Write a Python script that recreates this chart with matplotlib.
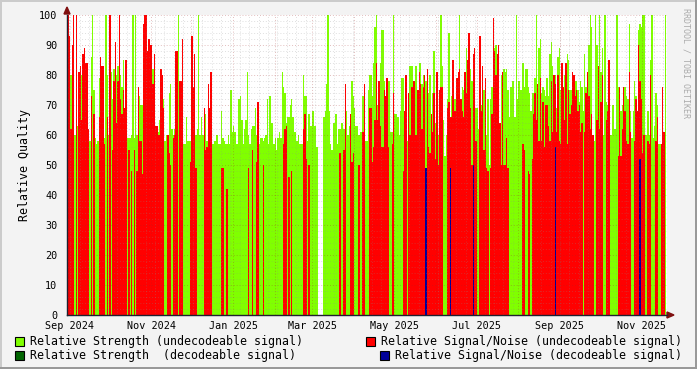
import numpy as np
import pandas as pd
import matplotlib
matplotlib.use('Agg')
import matplotlib.pyplot as plt
import matplotlib.dates as mdates
from matplotlib.patches import Rectangle, Polygon

nan = np.nan
start_date = '2024-08-31'

# Relative Strength (undecodeable signal), one value per day
strength_undec = [
    60, 70, 80, 70, 72, 60, 70, 63, 60, 80,
    80, 70, 75, 70, 65, 60, 58, 86, 100, 75,
    59, 57, 58, 79, 80, 80, 78, 59, 100, 80,
    60, 70, 81, 72, 82, 80, 80, 83, 70, 80,
    76, 85, 65, 70, 59, 59, 59, 60, 100, 59,
    100, 60, 69, 73, 70, 70, 80, 80, 82, 80,
    80, 84, 82, 82, 76, 60, 62, 61, 65, 75,
    72, 72, 58, 60, 60, 74, 77, 62, 60, 62,
    80, 70, 100, 68, 68, 75, 57, 57, 66, 58,
    58, 58, 60, 62, 60, 60, 62, 100, 60, 66,
    60, 60, 67, 58, 60, 68, 60, 57, 57, 58,
    60, 60, 57, 57, 68, 59, 58, 57, 57, 60,
    57, 75, 61, 63, 61, 57, 57, 72, 73, 65,
    57, 62, 65, 81, 60, 57, 62, 63, 63, 69,
    60, 60, 57, 59, 59, 58, 59, 60, 72, 57,
    73, 64, 64, 57, 59, 55, 59, 61, 59, 81,
    76, 74, 64, 66, 66, 70, 72, 66, 61, 61,
    58, 60, 57, 57, 57, 80, 73, 73, 58, 67,
    63, 63, 68, 63, 63, 56, nan, nan, nan, nan,
    66, 68, 77, 100, 68, 57, 55, 64, 64, 67,
    57, 62, 62, 64, 64, 62, 62, 68, 60, 63,
    63, 78, 73, 69, 63, 63, 60, 61, 61, 73,
    70, 58, 58, 75, 80, 80, 73, 84, 96, 100,
    70, 70, 84, 95, 95, 78, 70, 60, 78, 78,
    61, 61, 100, 67, 67, 66, 60, 68, 79, 79,
    60, 60, 58, 74, 83, 83, 83, 67, 83, 83,
    54, 84, 84, 77, 80, 80, 78, 82, 74, 80,
    67, 74, 88, 64, 70, 60, 60, 100, 83, 65,
    53, 60, 72, 94, 66, 73, 79, 72, 72, 70,
    70, 100, 68, 76, 75, 70, 89, 80, 75, 82,
    78, 80, 81, 69, 69, 62, 70, 70, 66, 75,
    69, 60, 72, 50, 72, 76, 75, 89, 90, 80,
    80, 57, 80, 57, 82, 81, 82, 75, 66, 76,
    78, 78, 66, 100, 72, 78, 75, 75, 84, 76,
    82, 82, 76, 74, 68, 74, 74, 79, 100, 77,
    89, 92, 74, 76, 75, 73, 79, 73, 87, 91,
    83, 79, 80, 69, 86, 89, 75, 70, 74, 80,
    65, 87, 85, 75, 75, 70, 73, 78, 78, 75,
    71, 78, 76, 68, 87, 76, 74, 90, 100, 96,
    60, 58, 100, 90, 71, 100, 81, 89, 60, 100,
    71, 70, 68, 60, 60, 70, 62, 62, 100, 76,
    75, 68, 70, 69, 76, 73, 72, 97, 68, 59,
    68, 78, 73, 66, 95, 97, 96, 100, 100, 60,
    60, 68, 60, 85, 100, 59, 63, 74, 70, 57,
    57, 57, 73, 60, 100,
]

# Relative Signal/Noise (undecodeable signal), one value per day
snr_undec = [
    100, 93, 62, 90, 100, 0, 100, 0, 81, 83,
    65, 87, 89, 84, 84, 62, 0, 73, 0, 67,
    0, 0, 0, 66, 86, 83, 83, 57, 0, 66,
    0, 100, 0, 55, 78, 91, 64, 78, 100, 72,
    67, 75, 69, 85, 0, 55, 0, 48, 0, 55,
    0, 48, 76, 58, 58, 47, 97, 100, 100, 88,
    92, 90, 90, 77, 87, 63, 63, 60, 60, 82,
    80, 69, 0, 0, 60, 54, 50, 0, 59, 60,
    88, 88, 0, 78, 78, 92, 0, 0, 0, 0,
    0, 51, 93, 76, 87, 49, 0, 0, 0, 0,
    0, 69, 55, 56, 77, 69, 81, 0, 0, 0,
    0, 0, 0, 0, 49, 49, 0, 0, 42, 0,
    0, 0, 0, 0, 0, 0, 0, 0, 0, 0,
    0, 0, 0, 0, 49, 0, 0, 55, 0, 0,
    51, 71, 0, 0, 0, 50, 0, 0, 0, 0,
    0, 0, 0, 0, 0, 0, 0, 0, 0, 0,
    57, 62, 63, 0, 46, 0, 48, 0, 0, 0,
    0, 0, 0, 0, 0, 62, 67, 52, 0, 50,
    0, 0, 0, 0, 0, 0, nan, nan, nan, nan,
    0, 0, 0, 0, 0, 0, 0, 0, 0, 0,
    0, 0, 54, 0, 0, 55, 77, 0, 0, 0,
    67, 51, 54, 0, 0, 0, 50, 0, 0, 61,
    77, 0, 0, 0, 69, 69, 51, 56, 65, 84,
    65, 78, 63, 56, 56, 75, 73, 79, 56, 0,
    0, 57, 74, 0, 0, 0, 0, 0, 0, 48,
    68, 80, 0, 74, 60, 76, 76, 78, 60, 60,
    75, 81, 77, 62, 76, 80, 0, 82, 56, 54,
    67, 61, 74, 52, 81, 50, 75, 76, 76, 0,
    0, 0, 69, 71, 66, 66, 85, 68, 68, 79,
    81, 82, 72, 68, 66, 81, 74, 85, 94, 69,
    50, 87, 89, 58, 0, 0, 93, 68, 83, 55,
    79, 49, 48, 0, 49, 67, 99, 88, 80, 87,
    90, 64, 50, 81, 50, 50, 59, 49, 0, 0,
    0, 0, 0, 0, 0, 0, 0, 0, 57, 55,
    0, 0, 48, 47, 0, 52, 67, 74, 65, 77,
    58, 79, 58, 71, 56, 70, 70, 63, 58, 78,
    61, 80, 77, 61, 80, 58, 57, 84, 76, 65,
    84, 57, 75, 67, 70, 81, 80, 73, 75, 68,
    70, 61, 64, 0, 61, 74, 81, 73, 62, 67,
    60, 0, 0, 65, 83, 62, 71, 80, 0, 0,
    65, 68, 85, 0, 0, 0, 0, 0, 0, 53,
    76, 53, 62, 76, 68, 58, 57, 81, 61, 0,
    0, 58, 72, 68, 90, 78, 72, 54, 60, 0,
    0, 58, 57, 80, 0, 0, 0, 58, 66, 0,
    0, 57, 76, 61, 0,
]

# Decodeable-signal days
snr_dec_dates = ['2025-05-24', '2025-06-11', '2025-06-28', '2025-08-28', '2025-10-30']
snr_dec = [49, 49, 50, 56, 52]
strength_dec_dates = []
strength_dec = []

y_ticks = [0, 10, 20, 30, 40, 50, 60, 70, 80, 90, 100]
x_tick_dates = ['2024-09-01', '2024-11-01', '2025-01-01', '2025-03-01',
                '2025-05-01', '2025-07-01', '2025-09-01', '2025-11-01']
x_tick_labels = ['Sep 2024', 'Nov 2024', 'Jan 2025', 'Mar 2025',
                 'May 2025', 'Jul 2025', 'Sep 2025', 'Nov 2025']
legend_labels = ['Relative Strength (undecodeable signal)',
                 'Relative Signal/Noise (undecodeable signal)',
                 'Relative Strength  (decodeable signal)',
                 'Relative Signal/Noise (decodeable signal)']

C_GREEN = '#80FF00'
C_RED = '#FF0000'
C_DKGREEN = '#006400'
C_BLUE = '#000099'

W, H = 697, 369
MONO = 'DejaVu Sans Mono'
fig = plt.figure(figsize=(W / 100, H / 100), dpi=100)
fig.patch.set_facecolor('#F3F3F3')

def fx(px):
    return px / W

def fy(py):
    return 1 - py / H

ax = fig.add_axes([fx(67), fy(315), fx(600), 300 / H])
ax.set_facecolor('white')

dates = pd.date_range(start_date, periods=len(strength_undec), freq='D')
xnum = mdates.date2num(dates)
ax.bar(xnum, strength_undec, width=1.0, align='edge', color=C_GREEN,
       linewidth=0, antialiased=False, zorder=2)
ax.bar(xnum, snr_undec, width=1.0, align='edge', color=C_RED,
       linewidth=0, antialiased=False, zorder=3)
if strength_dec:
    ax.bar(mdates.date2num(pd.to_datetime(strength_dec_dates)), strength_dec,
           width=1.0, align='edge', color=C_DKGREEN, linewidth=0,
           antialiased=False, zorder=4)
ax.bar(mdates.date2num(pd.to_datetime(snr_dec_dates)), snr_dec, width=1.0,
       align='edge', color=C_BLUE, linewidth=0, antialiased=False, zorder=5)

s0 = mdates.date2num(pd.Timestamp('2024-09-01'))
ppd = 1.345
ax.set_xlim(s0 - 2 / ppd, s0 + 598 / ppd)
ax.set_ylim(0, 100)

# grid (dotted, drawn over the areas like rrdtool)
GRID_MINOR = dict(color='#8C8C8C', alpha=0.28, lw=0.7, ls=(0, (1, 2)), zorder=6)
GRID_MAJOR = dict(color='#A02828', alpha=0.30, lw=0.7, ls=(0, (1, 2)), zorder=6)
for v in range(0, 101, 2):
    ax.axhline(v, **(GRID_MAJOR if v % 10 == 0 else GRID_MINOR))
months = pd.date_range('2024-09-01', '2025-12-01', freq='MS')
weeks = pd.date_range('2024-08-26', '2025-11-30', freq='7D')
for wd in weeks:
    ax.axvline(mdates.date2num(wd), **GRID_MINOR)
for md in months:
    ax.axvline(mdates.date2num(md), **GRID_MAJOR)

ax.set_yticks(y_ticks)
ax.set_yticklabels([str(t) for t in y_ticks], fontfamily=MONO, fontsize=7.3, color='#000000')
ax.set_xticks(mdates.date2num(pd.to_datetime(x_tick_dates)))
ax.set_xticklabels(x_tick_labels, fontfamily=MONO, fontsize=7.3, color='#000000')
ax.tick_params(axis='y', length=0, pad=7)
ax.tick_params(axis='x', length=0, pad=4)
for sp in ax.spines.values():
    sp.set_visible(False)
ax.set_ylabel('Relative Quality', fontfamily=MONO, fontsize=8.4, labelpad=6)

# axes lines and arrows
AXC = '#202030'
ARC = '#7F1010'
fig.add_artist(plt.Line2D([fx(67), fx(667)], [fy(315), fy(315)], color=AXC, lw=1.0))
fig.add_artist(plt.Line2D([fx(67), fx(67)], [fy(315), fy(15)], color=AXC, lw=1.0))
fig.add_artist(Polygon([[fx(667), fy(312)], [fx(674), fy(315)], [fx(667), fy(318)]],
                       closed=True, color=ARC, transform=fig.transFigure))
fig.add_artist(Polygon([[fx(64), fy(14)], [fx(67), fy(7)], [fx(70), fy(14)]],
                       closed=True, color=ARC, transform=fig.transFigure))

# watermark
fig.text(fx(686), fy(8), 'RRDTOOL / TOBI OETIKER', rotation=270, fontfamily=MONO,
         fontsize=6, color='#ABABAB', ha='center', va='top')

# legend
entries = [(15, 341, C_GREEN, legend_labels[0]), (366, 341, C_RED, legend_labels[1]),
           (15, 355, C_DKGREEN, legend_labels[2]), (380, 355, C_BLUE, legend_labels[3])]
for px, py, col, lab in entries:
    fig.add_artist(Rectangle((fx(px), fy(py + 5)), 9 / W, 9 / H, facecolor=col,
                             edgecolor='black', lw=0.8, transform=fig.transFigure))
    fig.text(fx(px + 15), fy(py), lab, fontfamily=MONO, fontsize=8.4,
             color='black', ha='left', va='center')

# frame shading
fig.add_artist(Rectangle((0, fy(2)), 1, 2 / H, facecolor='#CBCBCB', lw=0, transform=fig.transFigure))
fig.add_artist(Rectangle((0, 0), 2 / W, 1, facecolor='#CBCBCB', lw=0, transform=fig.transFigure))
fig.add_artist(Rectangle((0, 0), 1, 2 / H, facecolor='#999999', lw=0, transform=fig.transFigure))
fig.add_artist(Rectangle((1 - 2 / W, 0), 2 / W, 1, facecolor='#999999', lw=0, transform=fig.transFigure))

fig.savefig('out.png', dpi=100, facecolor=fig.get_facecolor())
